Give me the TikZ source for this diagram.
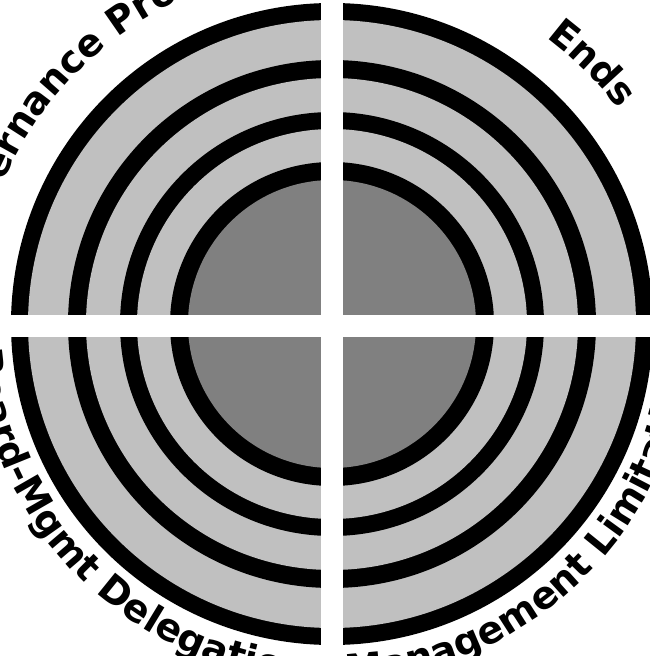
\documentclass[tikz,border=0pt]{standalone}
\usepackage{fontspec}
\newfontfamily\ringfont{DejaVu Sans}
\usetikzlibrary{decorations.text}
\definecolor{cring}{HTML}{C0C0C0}
\definecolor{ccore}{HTML}{808080}
\tikzset{
  every picture/.style={x=1pt, y=1pt},
  arclabel/.style={decorate, decoration={text along path, text align=center,
      text={|\ringfont\bfseries\fontsize{38}{40}\selectfont|#1}}},
  gap/.style={fill=white},
}

\begin{document}
\begin{tikzpicture}
  \useasboundingbox (-332,-332) rectangle (318,324);
  \clip (-332,-332) rectangle (318,324);
  % concentric rings, outside in
  \foreach \r/\c in {321/black, 304/cring, 264/black, 246/cring, 212/black, 195/cring, 162/black, 144/ccore}
    \fill[\c] (0,0) circle (\r);
  % white cross splitting the four quarters
  \fill[gap] (-11,-340) rectangle (11,340);
  \fill[gap] (-340,-13) rectangle (340,9);
  % quarter labels on a circle of radius 358
  \path[arclabel={Governance Process}] (225:358) arc[start angle=225, end angle=45, radius=358];
  \path[arclabel={Ends}] (135:358) arc[start angle=135, end angle=-45, radius=358];
  \path[arclabel={Management Limitations}] (225:358) arc[start angle=225, end angle=405, radius=358];
  \path[arclabel={Board-Mgmt Delegation}] (135:358) arc[start angle=135, end angle=315, radius=358];
\end{tikzpicture}
\end{document}
